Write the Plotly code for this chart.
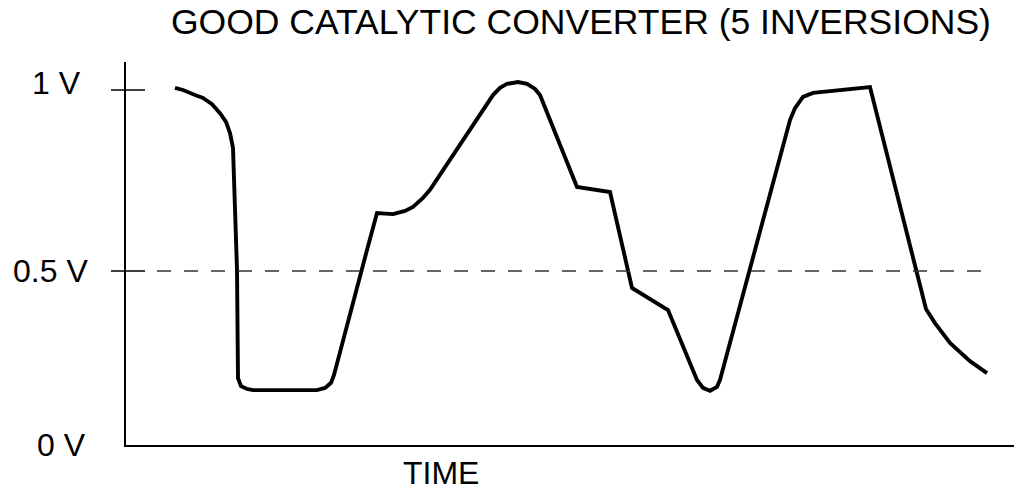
import plotly.graph_objects as go

# ---- data (time in arbitrary units, voltage in V) ----
time = [49, 57, 69, 77, 86, 94, 100, 104, 107, 111, 112, 115, 121, 127, 191, 199, 205, 208,
        241, 251, 267, 279, 287, 297, 304, 367, 374, 381, 392, 401, 409, 414, 451, 484, 506,
        542, 571, 577, 584, 591, 594, 664, 669, 677, 687, 744, 800, 809, 824, 844, 861]
voltage = [1.006, 1.000, 0.986, 0.978, 0.961, 0.936, 0.912, 0.881, 0.840, 0.503, 0.204, 0.182,
           0.174, 0.171, 0.171, 0.177, 0.191, 0.213, 0.558, 0.660, 0.657, 0.666, 0.677, 0.702,
           0.724, 0.986, 1.006, 1.017, 1.022, 1.017, 1.003, 0.986, 0.732, 0.718, 0.453, 0.392,
           0.199, 0.177, 0.169, 0.180, 0.199, 0.917, 0.950, 0.981, 0.992, 1.008, 0.395, 0.356,
           0.301, 0.251, 0.218]
tick_values = [1.0, 0.5, 0.0]
tick_labels = ["1 V", "0.5 V", "0 V"]
threshold = 0.5
threshold_span = [31, 867]
title_text = "GOOD CATALYTIC CONVERTER (5 INVERSIONS)"
x_title = "TIME"

X_RANGE = [0, 896]
Y_RANGE = [0.0193, 1.0773]
FONT = "Liberation Sans, Arial, Helvetica, sans-serif"
PW, PH = 896.0, 383.0  # plot area size in px

fig = go.Figure()
fig.add_trace(go.Scatter(x=time, y=voltage, mode="lines",
                         line=dict(color="black", width=3.9), hoverinfo="skip",
                         showlegend=False))

def ypaper(v):
    return (v - Y_RANGE[0]) / (Y_RANGE[1] - Y_RANGE[0])

shapes = []
# threshold dashed line
shapes.append(dict(type="line", xref="x", yref="y", x0=threshold_span[0], x1=threshold_span[1],
                   y0=threshold, y1=threshold,
                   line=dict(color="#333333", width=1.6, dash="14px,13px")))
# crossing tick marks at non-zero values
for v in tick_values:
    if v > 0:
        shapes.append(dict(type="line", xref="paper", yref="paper", x0=-15 / PW, x1=19 / PW,
                           y0=ypaper(v), y1=ypaper(v), line=dict(color="black", width=1.5)))

annotations = []
label_shift = {1.0: 7, 0.5: 0, 0.0: 7}
label_x = {1.0: -43 / PW, 0.5: -36 / PW, 0.0: -38 / PW}
for v, lab in zip(tick_values, tick_labels):
    annotations.append(dict(text=lab, xref="paper", yref="paper", x=label_x[v], y=ypaper(v),
                            xanchor="right", yanchor="middle", yshift=label_shift[v],
                            showarrow=False, font=dict(family=FONT, size=32, color="black")))
annotations.append(dict(text=title_text, xref="paper", yref="paper", x=(581 - 126) / PW,
                        y=(445 - 22.5) / PH, xanchor="center", yanchor="middle", showarrow=False,
                        borderpad=0, font=dict(family=FONT, size=35.5, color="black")))
annotations.append(dict(text=x_title, xref="paper", yref="paper", x=(441 - 126) / PW,
                        y=(445 - 473) / PH, xanchor="center", yanchor="middle", showarrow=False,
                        font=dict(family=FONT, size=32, color="black")))

# the page body adds an 8px margin, so the figure is 8px smaller on each used side
fig.update_layout(
    width=1014, height=487,
    margin=dict(l=118, r=0, t=54, b=50, pad=0),
    paper_bgcolor="white", plot_bgcolor="white",
    xaxis=dict(range=X_RANGE, showgrid=False, zeroline=False, showticklabels=False,
               ticks="", showline=True, linecolor="black", linewidth=2, fixedrange=True),
    yaxis=dict(range=Y_RANGE, showgrid=False, zeroline=False, showticklabels=False,
               ticks="", showline=True, linecolor="black", linewidth=2, fixedrange=True),
    shapes=shapes, annotations=annotations, showlegend=False,
)

fig.write_html("out.html")
